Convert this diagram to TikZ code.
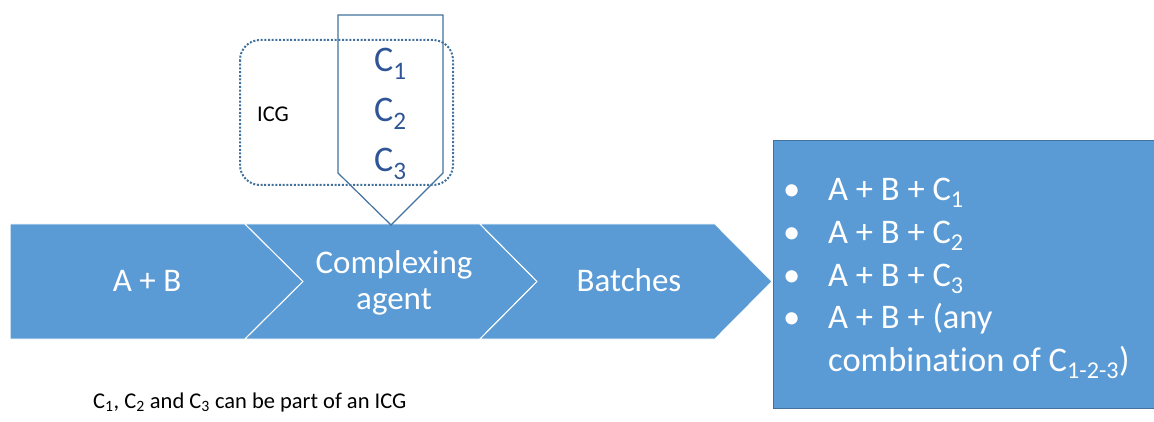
\documentclass[tikz,border=0pt]{standalone}
\usepackage{fontspec}
\setmainfont{Carlito}[Ligatures = NoCommon]
\usepackage{tikz}
\usepackage{xcolor}
\definecolor{fillb}{RGB}{91, 155, 213}
\definecolor{lineb}{RGB}{65, 113, 156}
\definecolor{textb}{RGB}{47, 85, 151}
\tikzset{
  stepfill/.style = {fill = fillb, draw = white, line width = 1pt},
  bigtext/.style = {text = white, font = \fontsize{33}{35}\selectfont, inner sep = 0pt},
  listtext/.style = {text = white, font = \fontsize{34.5}{36}\selectfont, inner sep = 0pt, anchor = base west},
  ctext/.style = {text = textb, font = \fontsize{36}{38}\selectfont, inner sep = 0pt, anchor = base west},
  smalltext/.style = {text = black, font = \fontsize{22.5}{24}\selectfont, inner sep = 0pt, anchor = base west}
}

\begin{document}
\begin{tikzpicture}[x = 1pt, y = -1pt]
\useasboundingbox (0,0) rectangle (1154,422);
% steps
\draw[stepfill] (10,224) -- (245,224) -- (303,281.5) -- (245,339) -- (10,339) -- cycle;
\draw[stepfill] (245,224) -- (480,224) -- (537,281.5) -- (480,339) -- (245,339) -- (303,281.5) -- cycle;
\draw[stepfill] (480,224) -- (715,224) -- (772,281.5) -- (715,339) -- (480,339) -- (537,281.5) -- cycle;
\node[bigtext, anchor = base] (ab) at (147,291) {A + B};
\node[bigtext, anchor = base] (agent1) at (394,273) {Complexing};
\node[bigtext, anchor = base] (agent2) at (394,309) {agent};
\node[bigtext, anchor = base] (batches) at (629,291) {Batches};
% result box
\draw[fill = fillb, draw = lineb, line width = 1pt] (773,141) rectangle (1175,408);
\node[listtext] (b1) at (783,201) {\textbullet};
\node[listtext] (b2) at (783,243.5) {\textbullet};
\node[listtext] (b3) at (783,286) {\textbullet};
\node[listtext] (b4) at (783,328.5) {\textbullet};
\node[listtext] (r1) at (828,201) {A + B + C\textsubscript{1}};
\node[listtext] (r2) at (828,243.5) {A + B + C\textsubscript{2}};
\node[listtext] (r3) at (828,286) {A + B + C\textsubscript{3}};
\node[listtext] (r4) at (828,328.5) {A + B + (any};
\node[listtext] (r5) at (828,371) {combination of C\textsubscript{1-2-3})};
% complexing agents
\draw[lineb, line width = 1.2pt] (338,15) -- (443,15) -- (443,173) -- (391,225) -- (338,173) -- cycle;
\draw[lineb, line width = 2pt, dash pattern = on 2pt off 1.7pt, rounded corners = 20pt] (240,40) rectangle (453,185);
\node[smalltext] (icg) at (257,122) {ICG};
\node[ctext] (c1) at (374,72) {C\textsubscript{1}};
\node[ctext] (c2) at (374,122) {C\textsubscript{2}};
\node[ctext] (c3) at (374,172) {C\textsubscript{3}};
% note
\node[smalltext] (note) at (93,408) {C\textsubscript{1}, C\textsubscript{2} and C\textsubscript{3} can be part of an ICG};
\end{tikzpicture}
\end{document}
